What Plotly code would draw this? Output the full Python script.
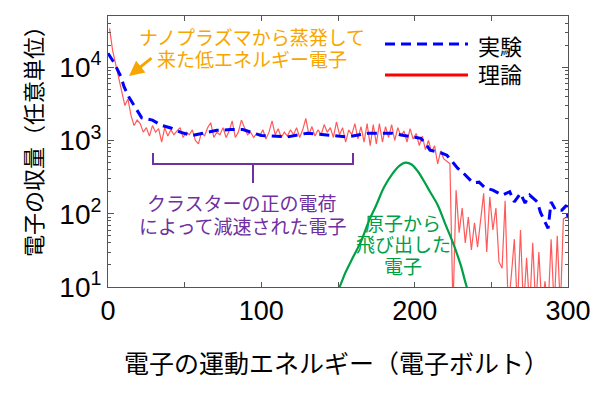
import plotly.graph_objects as go

# ---------------- data ----------------
theory_energy = list(range(1, 300, 2))  # eV grid of the theory curve
theory_yield = [
    34000, 17000, 11000, 7000, 4900, 3000, 3700, 2200, 1600, 1900,
    1700, 1300, 1500, 1150, 1600, 1300, 1450, 950, 1500, 1150,
    1400, 1200, 1350, 1500, 1100, 1300, 1200, 1400, 1000, 900,
    1300, 1150, 1500, 1750, 1100, 1300, 1200, 1500, 1100, 1350,
    1850, 1100, 1300, 1900, 1500, 1200, 1300, 1100, 1250, 1150,
    1400, 1050, 1300, 1850, 1200, 1450, 1100, 1300, 1150, 1400,
    1200, 1500, 1100, 1400, 2000, 1200, 1550, 1150, 1400, 1200,
    1650, 1300, 1500, 1100, 1800, 1200, 1500, 950, 1400, 1200,
    1700, 1050, 1550, 950, 1700, 850, 1650, 900, 1700, 950,
    1550, 1100, 1650, 1000, 1500, 1150, 1350, 950, 1450, 1050,
    1250, 850, 1150, 750, 1000, 700, 850, 480, 720, 560,
    520, 480, 5, 210, 55, 120, 40, 90, 32, 75,
    35, 80, 190, 30, 170, 60, 120, 22, 18, 150,
    5, 14, 45, 5, 60, 5, 25, 5, 40, 5,
    30, 5, 12, 5, 45, 5, 50, 5, 85, 90,
]

exp_energy = [0, 4, 8.5, 10.5, 13.7, 18, 22, 29, 34.5, 41, 47.6, 55, 62.6, 71, 80,
              88, 100, 117, 130, 143, 156, 170, 185, 193, 200, 204, 207, 210, 217,
              221, 225, 228, 232, 238, 242, 246, 251, 257, 262, 265, 269, 272, 275,
              280, 282, 287, 289, 292, 296, 299, 300]
exp_yield = [15500, 11500, 7400, 5400, 3900, 2750, 2040, 1900, 1620, 1480, 1290, 1170,
             1260, 1380, 1410, 1410, 1170, 1120, 1260, 1200, 1120, 1260, 1260, 1170,
             1100, 1070, 910, 740, 680, 630, 500, 420, 355, 265, 270, 225, 210, 180,
             200, 145, 190, 140, 180, 145, 105, 63, 145, 112, 112, 130, 87]

atom_energy = [149, 151, 155, 160, 165, 170, 175, 180, 185, 190, 194, 198, 202,
               206, 210, 215, 220, 225, 230, 234, 236]
atom_yield = [8.5, 10, 16, 26, 42, 78, 132, 230, 340, 450, 500, 470, 380,
              280, 200, 132, 72, 40, 20, 10, 8]

x_tick_vals = [0, 100, 200, 300]
x_tick_text = ["0", "100", "200", "300"]
y_tick_vals = [10, 100, 1000, 10000]
y_tick_text = ["10<sup>1</sup>", "10<sup>2</sup>", "10<sup>3</sup>", "10<sup>4</sup>"]

legend_labels = ["実験", "理論"]
x_title = "電子の運動エネルギー（電子ボルト）"
y_title = "電子の収量（任意単位）"
orange_lines = ["ナノプラズマから蒸発して", "来た低エネルギー電子"]
purple_lines = ["クラスターの正の電荷", "によって減速された電子"]
green_lines = ["原子から", "飛び出した", "電子"]

# ---------------- styling ----------------
BLUE = "#0000FF"
RED = "rgba(255,0,0,0.65)"
RED_SOLID = "#FF0000"
GREEN = "#00A046"
ORANGE = "#F7A600"
PURPLE = "#7030A0"
AXIS = "#555555"
JP = "Noto Sans CJK JP"
NUM = "Liberation Sans, Arial, sans-serif"

# The page body has an 8px default margin, so the figure is drawn 8px in.
OFF = 8
W, H = 592, 377
PL, PR, PT, PB = 108, 568, 16, 287          # plot box on screen
L, R, T = PL - OFF, W - (PR - OFF), PT - OFF
B = H - (PB - OFF)
PW, PH = PR - PL, PB - PT


def px(xs):
    return (xs - PL) / PW


def py(ys):
    return (PB - ys) / PH


fig = go.Figure()
fig.add_trace(go.Scatter(x=theory_energy, y=theory_yield, mode="lines",
                         line=dict(color=RED, width=1.2), showlegend=False))
fig.add_trace(go.Scatter(x=atom_energy, y=atom_yield, mode="lines",
                         line=dict(color=GREEN, width=2.2, shape="spline"), showlegend=False))
fig.add_trace(go.Scatter(x=exp_energy, y=exp_yield, mode="lines",
                         line=dict(color=BLUE, width=3, dash="10px,6px"), showlegend=False))

minor_y = [m * 10 ** k for k in range(1, 5) for m in range(2, 10) if m * 10 ** k < 50000]

fig.update_layout(
    width=W, height=H, autosize=False,
    margin=dict(l=L, r=R, t=T, b=B, pad=0, autoexpand=False),
    paper_bgcolor="white", plot_bgcolor="white",
    font=dict(family=NUM, color="black"),
    xaxis=dict(range=[0, 300], showgrid=False, zeroline=False, showline=True,
               linecolor=AXIS, linewidth=1, mirror="ticks", ticks="inside",
               ticklen=5, tickcolor=AXIS, tickmode="array", tickvals=x_tick_vals,
               ticktext=x_tick_text, tickfont=dict(family=NUM, size=27),
               automargin=False,
               minor=dict(tickvals=[50, 150, 250], ticks="inside", ticklen=5,
                          tickcolor=AXIS, showgrid=False)),
    yaxis=dict(type="log", range=[1, 4.70], showgrid=False, zeroline=False,
               showline=True, linecolor=AXIS, linewidth=1, mirror="ticks",
               ticks="inside", ticklen=6, tickcolor=AXIS, tickmode="array",
               tickvals=y_tick_vals, ticktext=y_tick_text,
               tickfont=dict(family=NUM, size=28), automargin=False,
               minor=dict(tickvals=minor_y, ticks="inside", ticklen=3,
                          tickcolor=AXIS, showgrid=False)),
)


def label(xs, ys, text, size, color, xanchor="center", angle=0):
    return dict(x=px(xs), y=py(ys), xref="paper", yref="paper", text=text,
                xanchor=xanchor, yanchor="middle", textangle=angle,
                showarrow=False, font=dict(family=JP, size=size, color=color))


ann = []
ann.append(label(336, 362, x_title, 25, "black"))
ann.append(label(32, 136, y_title, 22, "black", angle=-90))
for t, yy in zip(orange_lines, [36, 58]):
    ann.append(label(252, yy, t, 19, ORANGE))
ann.append(dict(x=px(129), y=py(76), xref="paper", yref="paper", text="",
                showarrow=True, ax=24, ay=-19, arrowhead=2, arrowsize=1,
                arrowwidth=3, arrowcolor=ORANGE))
for t, yy in zip(purple_lines, [202, 225]):
    ann.append(label(242, yy, t, 19, PURPLE))
for t, yy in zip(green_lines, [222, 243, 265]):
    ann.append(label(403, yy, t, 19, GREEN))
for t, yy in zip(legend_labels, [45, 73]):
    ann.append(label(476, yy, t, 22, "black", xanchor="left"))
fig.update_layout(annotations=ann)

shapes = []
shapes.append(dict(type="line", xref="paper", yref="paper", x0=px(385), x1=px(468),
                   y0=py(44), y1=py(44), line=dict(color=BLUE, width=3, dash="10px,6px")))
shapes.append(dict(type="line", xref="paper", yref="paper", x0=px(385), x1=px(468),
                   y0=py(75), y1=py(75), line=dict(color=RED_SOLID, width=3)))
bx0, bx1, bmid, btop, bbar, btip = 153, 353, 253, 153, 164, 183
path = (f"M {px(bx0)},{py(btop)} L {px(bx0)},{py(bbar)} L {px(bx1)},{py(bbar)} L {px(bx1)},{py(btop)} "
        f"M {px(bmid)},{py(bbar)} L {px(bmid)},{py(btip)}")
shapes.append(dict(type="path", xref="paper", yref="paper", path=path,
                   line=dict(color=PURPLE, width=2)))
fig.update_layout(shapes=shapes)

fig.write_html("out.html")
